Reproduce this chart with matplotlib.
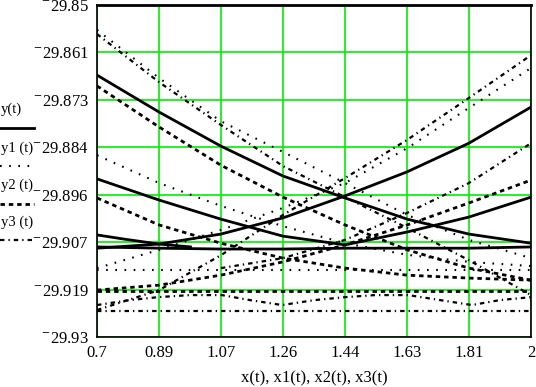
import numpy as np
import matplotlib
matplotlib.use("Agg")
import matplotlib.pyplot as plt

plt.rcParams['font.family'] = ['Liberation Serif', 'DejaVu Serif']
plt.rcParams['mathtext.fontset'] = 'stix'

# ---- data ----
xg = [0.70, 0.886, 1.071, 1.257, 1.443, 1.629, 1.814, 2.00]

# y(t) solid family
y_A = [-29.8669, -29.8758, -29.8840, -29.8912, -29.8965, -29.9016, -29.9052, -29.9074]
y_B = [-29.9086, -29.9076, -29.9052, -29.9013, -29.8960, -29.8902, -29.8833, -29.8746]
y_C = [-29.8919, -29.8970, -29.9016, -29.9057, -29.9078, -29.9047, -29.9011, -29.8963]
xF = [0.70, 0.78, 0.886, 0.98]
y_F = [-29.9054, -29.9064, -29.9076, -29.9083]
y_E = [-29.9083, -29.9086, -29.9088, -29.9088, -29.9086, -29.9086, -29.9086, -29.9083]

# y1(t) dotted family
y1_A = [-29.8560, -29.8676, -29.8780, -29.8854, -29.8929, -29.9006, -29.9066, -29.9110]
y1_B = [-29.9134, -29.9090, -29.9042, -29.8989, -29.8929, -29.8845, -29.8748, -29.8652]
y1_C = [-29.8862, -29.8929, -29.8984, -29.9033, -29.9074, -29.9102, -29.9119, -29.9129]
y1_E = [-29.9139] * 8

# y2(t) dashed family
y2_A = [-29.8695, -29.8794, -29.8886, -29.8963, -29.9030, -29.9090, -29.9134, -29.9163]
y2_B = [-29.9187, -29.9175, -29.9151, -29.9119, -29.9078, -29.9030, -29.8977, -29.8922]
y2_C = [-29.8965, -29.9030, -29.9074, -29.9110, -29.9134, -29.9151, -29.9158, -29.9163]
y2_E = [-29.9189] * 8

# y3(t) dash-dot family
y3_A = [-29.8570, -29.8686, -29.8789, -29.8888, -29.8963, -29.9037, -29.9115, -29.9199]
y3_B = [-29.9235, -29.9187, -29.9103, -29.9006, -29.8917, -29.8825, -29.8724, -29.8621]
xD3 = [1.071, 1.257, 1.443, 1.629, 1.814, 2.00]
y3_D = [-29.9134, -29.9110, -29.9066, -29.9001, -29.8929, -29.8833]
y3_E = [-29.9237] * 8
xW = [0.700, 0.799, 0.883, 0.979, 1.074, 1.158, 1.254, 1.353, 1.443, 1.533, 1.632, 1.727, 1.823, 1.907, 2.000]
y3_W = [-29.9223, -29.9211, -29.9204, -29.9199, -29.9199, -29.9211, -29.9223, -29.9211,
        -29.9204, -29.9199, -29.9199, -29.9211, -29.9223, -29.9211, -29.9204]

xticks = [0.7, 0.886, 1.071, 1.257, 1.443, 1.629, 1.814, 2.0]
xtick_labels = ["0.7", "0.89", "1.07", "1.26", "1.44", "1.63", "1.81", "2"]
yticks = [-29.85, -29.8614, -29.8729, -29.8843, -29.8957, -29.9071, -29.9186, -29.93]
ytick_labels = ["29.85", "29.861", "29.873", "29.884", "29.896", "29.907", "29.919", "29.93"]

# ---- styles ----
st_solid = dict(color='black', lw=2.0, linestyle='-')
st_dot = dict(color='black', lw=1.5, linestyle=(0, (0.8, 3.6)))
st_dash = dict(color='black', lw=2.0, linestyle=(0, (1.6, 1.4)))
st_dashdot = dict(color='black', lw=1.6, linestyle=(0, (2.0, 1.8, 0.6, 1.8)))

fig = plt.figure(figsize=(5.36, 3.87), dpi=100)
ax = fig.add_axes([97/536, 1-337/387, (531-97)/536, (337-5)/387])

ax.set_xlim(0.7, 2.0)
ax.set_ylim(-29.93, -29.85)
ax.set_xticks(xticks)
ax.set_yticks(yticks)
ax.grid(True, color='#00ee00', lw=1.2)
ax.set_axisbelow(True)

for yy in (y_A, y_B, y_C, y_E):
    ax.plot(xg, yy, **st_solid)
ax.plot(xF, y_F, **st_solid)
for yy in (y1_A, y1_B, y1_C, y1_E):
    ax.plot(xg, yy, **st_dot)
for yy in (y2_A, y2_B, y2_C, y2_E):
    ax.plot(xg, yy, **st_dash)
for yy in (y3_A, y3_B, y3_E):
    ax.plot(xg, yy, **st_dashdot)
ax.plot(xD3, y3_D, **st_dashdot)
ax.plot(xW, y3_W, **st_dashdot)

ax.set_xticklabels(xtick_labels, fontsize=12)
ax.set_yticklabels([r"$^{-}$" + s for s in ytick_labels], fontsize=12)
ax.tick_params(length=0, pad=6)
for sp in ax.spines.values():
    sp.set_linewidth(1.2)
    sp.set_color('black')
ax.spines['top'].set_linewidth(2.0)

fig.text(314/536, 1-378/387, "x(t), x1(t), x2(t), x3(t)", ha='center', va='center', fontsize=12)

# legend drawn at the left
leg_names = ["y(t)", "y1 (t)", "y2 (t)", "y3 (t)"]
leg_styles = [st_solid, st_dot, st_dash, st_dashdot]
text_y = [109, 148, 185, 222]
line_y = [128, 166, 204, 240]
for name, st, ty, ly in zip(leg_names, leg_styles, text_y, line_y):
    fig.text(1/536, 1-ty/387, name, ha='left', va='center', fontsize=10.5)
    fig.add_artist(matplotlib.lines.Line2D([0/536, 34/536], [1-ly/387, 1-ly/387],
                                           transform=fig.transFigure, **st))

fig.savefig("out.png", dpi=100)
